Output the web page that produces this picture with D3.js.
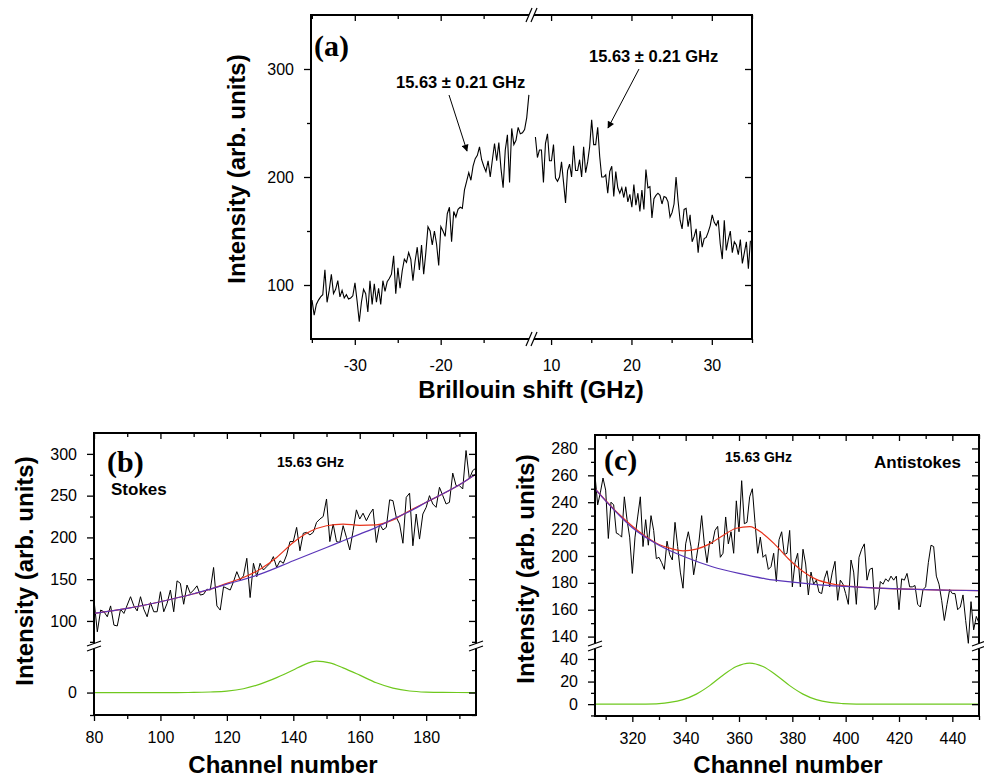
<!DOCTYPE html>
<html>
<head>
<meta charset="utf-8">
<script src="https://cdn.jsdelivr.net/npm/d3@7"></script>
<style>
  body { margin: 0; background: #fff; }
</style>
</head>
<body>
<svg id="chart" width="984" height="779"></svg>
<script>
// ---- panel (a): Brillouin spectrum ----
// sampling grid of the two branches (GHz)
const shiftLeftStart = -34.98, shiftRightStart = 8.05, shiftStep = 0.25;
const stokesSide = [86,72,82,86,89,91,114,84,95,110,
  92,96,104,89,95,88,91,87,88,90,
  102,85,66,84,96,92,75,104,82,101,
  84,97,82,104,94,103,106,110,127,92,
  116,97,113,124,121,130,124,104,122,135,
  114,137,110,130,154,150,137,150,138,118,
  154,150,145,166,172,140,168,163,170,172,
  171,188,196,204,197,210,217,220,228,216,
  210,205,215,200,216,231,215,232,208,190,
  225,239,195,245,230,234,246,240,241,244,
  255,276];
const antiStokesSide = [237,218,225,225,195,231,240,215,215,230,
  199,196,200,214,195,176,206,212,200,229,
  206,206,216,200,228,204,214,228,253,230,
  230,246,219,200,200,202,185,205,210,182,
  205,190,185,190,181,191,177,184,172,193,
  174,185,168,188,170,207,190,191,162,180,
  183,185,183,175,182,181,177,163,167,175,
  200,178,160,152,170,171,154,165,140,145,
  152,130,150,135,143,144,149,155,165,158,
  155,160,138,124,160,132,142,150,130,140,
  137,128,142,120,130,140,115,141];

// ---- panel (b): Stokes, channels 80..195 ----
const stokesFirstChannel = 80;
const stokesCounts = [125,87,113,111,105,118,95,94,114,109,
  119,129,118,112,129,114,105,122,111,111,
  135,111,121,137,111,148,145,120,143,133,
  137,142,131,132,138,137,164,118,113,141,
  139,137,147,159,149,154,175,128,169,153,
  169,161,165,169,177,164,172,169,179,195,
  195,212,184,205,206,203,206,218,222,225,
  246,195,216,195,194,214,200,185,208,233,
  222,229,220,228,234,194,216,209,212,245,
  244,224,216,193,248,253,190,228,198,228,
  236,250,240,236,260,250,240,242,277,262,
  262,258,304,270,280,283];
const stokesBaseCh  = [80,90,100,110,120,130,140,150,155,160,165,170,175,180,190,195];
const stokesBase    = [109,115,123,132.5,144,156,172,188,196,204,212,222,231,242,263,276];
const stokesFitCh   = [80,90,100,110,115,120,125,130,135,140,145,150,155,160,165,170,175,180,190,195];
const stokesFit     = [109,115,123,132.5,138,145,152,162,176,194,207,214,216,214.5,215,221,232,242,263,276];
const stokesPeakCh  = [80,105,110,115,120,125,130,135,140,143,147,151,155,160,165,170,175,180,185,195];
const stokesPeak    = [0,0,0.1,0.5,1.3,3.4,7.5,13.3,20.1,24.5,28,26.5,22,15.5,8.7,4,1.4,0.4,0.1,0];

// ---- panel (c): anti-Stokes, channels 306..450 ----
const antiFirstChannel = 306;
const antiCounts = [260,238,247,258,249,213,240,238,217,216,
  214,244,227,214,187,214,229,244,207,227,
  208,230,219,198,199,195,190,211,201,197,
  225,207,188,176,209,218,207,186,198,211,
  230,209,195,211,209,219,222,199,202,229,
  209,218,202,241,218,256,224,225,244,250,
  225,202,214,199,201,190,192,202,181,212,
  218,201,202,219,177,195,202,177,205,194,
  171,188,179,182,173,172,183,189,177,188,
  196,167,182,179,172,164,197,188,164,199,
  205,209,182,190,191,160,164,181,179,183,
  181,185,182,185,160,183,182,187,177,177,
  178,164,162,175,177,195,208,207,185,179,
  167,152,164,175,172,172,160,162,171,152,
  135,166,145,155,150];
const antiBaseCh = [306,310,320,330,340,350,360,370,380,390,400,410,420,430,440,450];
const antiBase   = [250,241,221,208,199,192,187,183,180.5,178.5,177.3,176.3,175.5,174.9,174.5,174.2];
const antiFitCh  = [306,315,325,330,334,339,344,349,354,359,364,369,374,379,384,389,394,399,404,410,420,430,440,450];
const antiFit    = [250,231,214.5,208.5,205.8,203.8,205.1,209,215.3,220.6,221.8,216.6,207.5,197,188.5,182.6,179.6,177.9,177,176.3,175.5,174.9,174.5,174.2];
const antiPeakCh = [306,320,325,330,334,339,344,349,354,359,364,369,374,379,384,389,394,399,404,410,450];
const antiPeak   = [0,0,0.1,0.5,1.5,4,8.9,16.4,25.6,33.3,36.4,33.3,25.6,16.4,8.9,4,1.5,0.5,0.1,0,0];

const SANS = "'Liberation Sans', Arial, Helvetica, sans-serif";
const SERIF = "'Liberation Serif', 'Times New Roman', serif";
const BLUE = "#5a35b8", RED = "#e8341c", GREEN = "#6fc81e";

const svg = d3.select("#chart");

svg.append("defs").append("marker")
  .attr("id", "arrow").attr("viewBox", "0 0 10 10")
  .attr("refX", 9).attr("refY", 5)
  .attr("markerWidth", 9).attr("markerHeight", 7)
  .attr("markerUnits", "userSpaceOnUse")
  .attr("orient", "auto")
  .append("path").attr("d", "M0,0L10,5L0,10Z").attr("fill", "#000");

const plain = d => String(d);   // hyphen minus, like the original

// frame, ticks on all four sides, tick labels
function drawAxes(g, x, y, box, t) {
  const style = sel => {
    sel.select(".domain").remove();
    sel.selectAll(".tick line").attr("stroke", "#000").attr("stroke-width", 1.3);
    sel.selectAll(".tick text").attr("font-family", SANS).attr("font-size", 16).attr("fill", "#000");
  };
  const put = (axis, tx, ty) => g.append("g").attr("transform", `translate(${tx},${ty})`).call(axis).call(style);

  put(d3.axisLeft(y).tickValues(t.yMajor).tickSize(7).tickPadding(10).tickFormat(plain), box.x0, 0);
  put(d3.axisLeft(y).tickValues(t.yMinor).tickSize(4).tickFormat(""), box.x0, 0);
  put(d3.axisRight(y).tickValues(t.yMajor).tickSize(-7).tickFormat(""), box.x1, 0);
  put(d3.axisRight(y).tickValues(t.yMinor).tickSize(-4).tickFormat(""), box.x1, 0);
  put(d3.axisBottom(x).tickValues(t.xMajor).tickSize(6).tickPadding(t.xPad).tickFormat(plain), 0, box.y1);
  put(d3.axisBottom(x).tickValues(t.xMinor).tickSize(4).tickFormat(""), 0, box.y1);
  put(d3.axisTop(x).tickValues(t.xMajor).tickSize(-6).tickFormat(""), 0, box.y0);
  put(d3.axisTop(x).tickValues(t.xMinor).tickSize(-4).tickFormat(""), 0, box.y0);

  g.append("rect")
    .attr("x", box.x0).attr("y", box.y0)
    .attr("width", box.x1 - box.x0).attr("height", box.y1 - box.y0)
    .attr("fill", "none").attr("stroke", "#000").attr("stroke-width", 2);
}

// "//" break marks
function breakOnX(g, cx, cy) {
  g.append("rect").attr("x", cx - 2.5).attr("y", cy - 2).attr("width", 5).attr("height", 4).attr("fill", "#fff");
  [-2.5, 2.5].forEach(o => g.append("line")
    .attr("x1", cx + o - 3).attr("y1", cy + 7).attr("x2", cx + o + 3).attr("y2", cy - 7)
    .attr("stroke", "#000").attr("stroke-width", 1.2));
}
function breakOnY(g, cx, cy) {
  g.append("rect").attr("x", cx - 2).attr("y", cy - 2.5).attr("width", 4).attr("height", 5).attr("fill", "#fff");
  [-2.5, 2.5].forEach(o => g.append("line")
    .attr("x1", cx - 7).attr("y1", cy + o + 2.5).attr("x2", cx + 7).attr("y2", cy + o - 2.5)
    .attr("stroke", "#000").attr("stroke-width", 1.2));
}

function text(g, str, x, y, size, opts = {}) {
  const t = g.append("text").attr("x", x).attr("y", y)
    .attr("font-family", opts.serif ? SERIF : SANS)
    .attr("font-size", size).attr("font-weight", "bold")
    .attr("text-anchor", opts.anchor || "start").attr("fill", "#000").text(str);
  if (opts.rotate) t.attr("transform", `rotate(-90,${x},${y})`);
  return t;
}

// ================= panel (a) =================
{
  const box = { x0: 311, x1: 752, y0: 15, y1: 339 };
  const x = d3.scaleLinear().domain([-35.1, -9.6, 7.75, 35]).range([311, 530, 533, 752]);
  const y = d3.scaleLinear().domain([50, 350]).range([box.y1, box.y0]);
  const g = svg.append("g");

  const line = d3.line().x(d => x(d[0])).y(d => y(d[1]));
  const left = stokesSide.map((v, i) => [shiftLeftStart + i * shiftStep, v]);
  const right = antiStokesSide.map((v, i) => [shiftRightStart + i * shiftStep, v]);
  [left, right].forEach(s => g.append("path").datum(s).attr("d", line)
    .attr("fill", "none").attr("stroke", "#000").attr("stroke-width", 1.1));

  drawAxes(g, x, y, box, {
    yMajor: [100, 200, 300], yMinor: [150, 250],
    xMajor: [-30, -20, 10, 20, 30], xMinor: [-35, -25, -15, 15, 25, 35], xPad: 15
  });
  breakOnX(g, 531.5, box.y0);
  breakOnX(g, 531.5, box.y1);

  text(g, "(a)", 314, 56, 30, { serif: true });
  text(g, "15.63 \u00b1 0.21 GHz", 396, 88, 16.5);
  text(g, "15.63 \u00b1 0.21 GHz", 589, 62, 16.5);
  g.append("line").attr("x1", 449).attr("y1", 95).attr("x2", 467).attr("y2", 151)
    .attr("stroke", "#000").attr("stroke-width", 1).attr("marker-end", "url(#arrow)");
  g.append("line").attr("x1", 639).attr("y1", 69).attr("x2", 608).attr("y2", 128)
    .attr("stroke", "#000").attr("stroke-width", 1).attr("marker-end", "url(#arrow)");

  text(g, "Intensity (arb. units)", 245, 169, 24, { anchor: "middle", rotate: true });
  text(g, "Brillouin shift (GHz)", 531, 398, 24, { anchor: "middle" });
}

// fitted spectra panel helper
function fitPanel(cfg) {
  const g = svg.append("g");
  const { box, x, y } = cfg;
  const raw = d3.line().x((d, i) => x(cfg.first + i)).y(d => y(d));
  const smooth = d3.line().curve(d3.curveMonotoneX).x(d => x(d[0])).y(d => y(d[1]));
  g.append("path").datum(cfg.counts).attr("d", raw)
    .attr("fill", "none").attr("stroke", "#000").attr("stroke-width", 1);
  g.append("path").datum(d3.zip(cfg.fitCh, cfg.fit)).attr("d", smooth)
    .attr("fill", "none").attr("stroke", RED).attr("stroke-width", 1.2);
  g.append("path").datum(d3.zip(cfg.baseCh, cfg.base)).attr("d", smooth)
    .attr("fill", "none").attr("stroke", BLUE).attr("stroke-width", 1.2);
  g.append("path").datum(d3.zip(cfg.peakCh, cfg.peak)).attr("d", smooth)
    .attr("fill", "none").attr("stroke", GREEN).attr("stroke-width", 1.2);

  drawAxes(g, x, y, box, cfg.ticks);
  breakOnY(g, box.x0, cfg.breakY);
  breakOnY(g, box.x1, cfg.breakY);
  return g;
}

// ================= panel (b) =================
{
  const box = { x0: 94, x1: 476, y0: 433, y1: 715 };
  const g = fitPanel({
    box,
    x: d3.scaleLinear().domain([80, 195]).range([box.x0, box.x1]),
    y: d3.scaleLinear().domain([-20, 41.5, 70, 325]).range([715, 646, 646, 433]),
    first: stokesFirstChannel, counts: stokesCounts,
    baseCh: stokesBaseCh, base: stokesBase, fitCh: stokesFitCh, fit: stokesFit,
    peakCh: stokesPeakCh, peak: stokesPeak, breakY: 646,
    ticks: {
      yMajor: [0, 100, 150, 200, 250, 300], yMinor: [-20, 20, 75, 125, 175, 225, 275],
      xMajor: [80, 100, 120, 140, 160, 180], xMinor: [90, 110, 130, 150, 170, 190], xPad: 11
    }
  });
  text(g, "(b)", 107, 472, 30, { serif: true });
  text(g, "15.63 GHz", 277, 467, 14);
  text(g, "Stokes", 111, 495, 17);
  text(g, "Intensity (arb. units)", 33, 571, 24, { anchor: "middle", rotate: true });
  text(g, "Channel number", 283, 773, 24, { anchor: "middle" });
}

// ================= panel (c) =================
{
  const box = { x0: 595, x1: 979, y0: 435, y1: 716 };
  const g = fitPanel({
    box,
    x: d3.scaleLinear().domain([306, 450]).range([box.x0, box.x1]),
    y: d3.scaleLinear().domain([-10.5, 51.5, 133, 290]).range([716, 646, 646, 435]),
    first: antiFirstChannel, counts: antiCounts,
    baseCh: antiBaseCh, base: antiBase, fitCh: antiFitCh, fit: antiFit,
    peakCh: antiPeakCh, peak: antiPeak, breakY: 646,
    ticks: {
      yMajor: [0, 20, 40, 140, 160, 180, 200, 220, 240, 260, 280],
      yMinor: [-10, 10, 30, 150, 170, 190, 210, 230, 250, 270],
      xMajor: [320, 340, 360, 380, 400, 420, 440],
      xMinor: [310, 330, 350, 370, 390, 410, 430, 450], xPad: 11
    }
  });
  text(g, "(c)", 604, 470, 30, { serif: true });
  text(g, "15.63 GHz", 725, 462, 14);
  text(g, "Antistokes", 874, 468, 17);
  text(g, "Intensity (arb. units)", 534, 569, 24, { anchor: "middle", rotate: true });
  text(g, "Channel number", 788, 773, 24, { anchor: "middle" });
}
</script>
</body>
</html>
